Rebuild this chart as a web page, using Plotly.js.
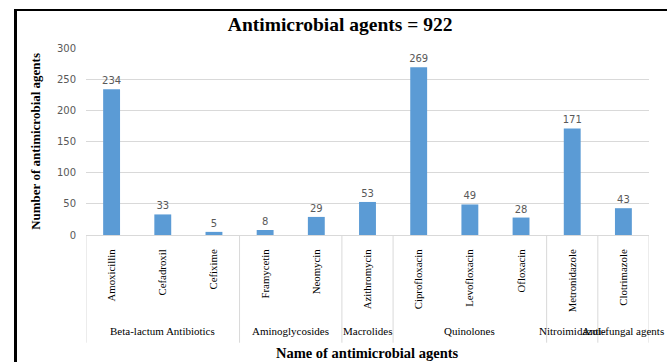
<!DOCTYPE html>
<html><head><meta charset="utf-8">
<script src="https://cdn.plot.ly/plotly-3.0.1.min.js"></script>
<style>
html,body{margin:0;padding:0;background:#fff;overflow:hidden;}
#wrap{position:relative;width:667px;height:362px;}
#chart{width:667px;height:362px;}
#frame{position:absolute;left:14px;top:9px;right:0;bottom:0;border-left:3px solid #000;border-top:2px solid #000;pointer-events:none;}
</style></head>
<body><div id="wrap"><div id="chart"></div><div id="frame"></div></div>
<script>
const drugs = ["Amoxicillin","Cefadroxil","Cefixime","Framycetin","Neomycin","Azithromycin","Ciprofloxacin","Levofloxacin","Ofloxacin","Metronidazole","Clotrimazole"];
const counts = [234,33,5,8,29,53,269,49,28,171,43];
const groups = ["Beta-lactum Antibiotics","Aminoglycosides","Macrolides","Quinolones","Nitroimidazole","Anti-fungal agents"];
const groupSizes = [3,2,1,3,1,1];
const yTicks = [0,50,100,150,200,250,300];

const serif = "Liberation Serif, Times New Roman, serif";
const sans = "DejaVu Sans, sans-serif";
const gridCol = "#d9d9d9";

const shapes = [];
const annotations = [];
let start = 0;
const sepBottom = -0.576;
shapes.push({type:"line", xref:"x", yref:"paper", x0:-0.5, x1:-0.5, y0:0, y1:sepBottom, line:{color:gridCol,width:1}});
groups.forEach((g,i)=>{
  const end = start + groupSizes[i];
  shapes.push({type:"line", xref:"x", yref:"paper", x0:end-0.5, x1:end-0.5, y0:0, y1:sepBottom, line:{color:gridCol,width:1}});
  annotations.push({text:g, xref:"x", yref:"paper", x:(start+end-1)/2, y:-0.511, xanchor:"center", yanchor:"middle", showarrow:false, font:{family:serif,size:11,color:"#000"}});
  start = end;
});
annotations.push({text:"<b>Name of antimicrobial agents</b>", xref:"paper", yref:"paper", x:0.5, y:-0.629, xanchor:"center", yanchor:"middle", showarrow:false, font:{family:serif,size:14.5,color:"#000"}});
annotations.push({text:"<b>Number of antimicrobial agents</b>", xref:"paper", yref:"paper", x:-0.09, y:0.5, xanchor:"center", yanchor:"middle", textangle:-90, showarrow:false, font:{family:serif,size:13,color:"#000"}});

Plotly.newPlot("chart", [{
  type:"bar", x:drugs, y:counts, text:counts.map(String), textposition:"outside", cliponaxis:false, constraintext:"none",
  textfont:{family:sans,size:10,color:"#595959"},
  marker:{color:"#5b9bd5"}, hoverinfo:"x+y"
}], {
  width:667, height:362, autosize:false,
  margin:{l:86,r:18,t:48,b:127},
  paper_bgcolor:"#fff", plot_bgcolor:"#fff",
  title:{text:"<b>Antimicrobial agents = 922</b>", x:0.51, xanchor:"center", y:22, yref:"container", yanchor:"middle", font:{family:serif,size:19.5,color:"#000"}},
  bargap:0.67,
  showlegend:false,
  xaxis:{type:"category", range:[-0.5, drugs.length-0.5], autorange:false, tickangle:-90, tickfont:{family:serif,size:10.8,color:"#000"}, showline:true, linecolor:gridCol, linewidth:1, ticks:"", showgrid:false, ticklabelstandoff:9, automargin:false, fixedrange:true},
  yaxis:{range:[0,300], autorange:false, tickvals:yTicks, ticktext:yTicks.map(String), tickfont:{family:sans,size:10,color:"#595959"}, gridcolor:gridCol, gridwidth:1, zeroline:false, showline:false, ticks:"", ticklabelstandoff:9, automargin:false, fixedrange:true},
  shapes:shapes, annotations:annotations
}, {displayModeBar:false, staticPlot:true});
</script></body></html>
